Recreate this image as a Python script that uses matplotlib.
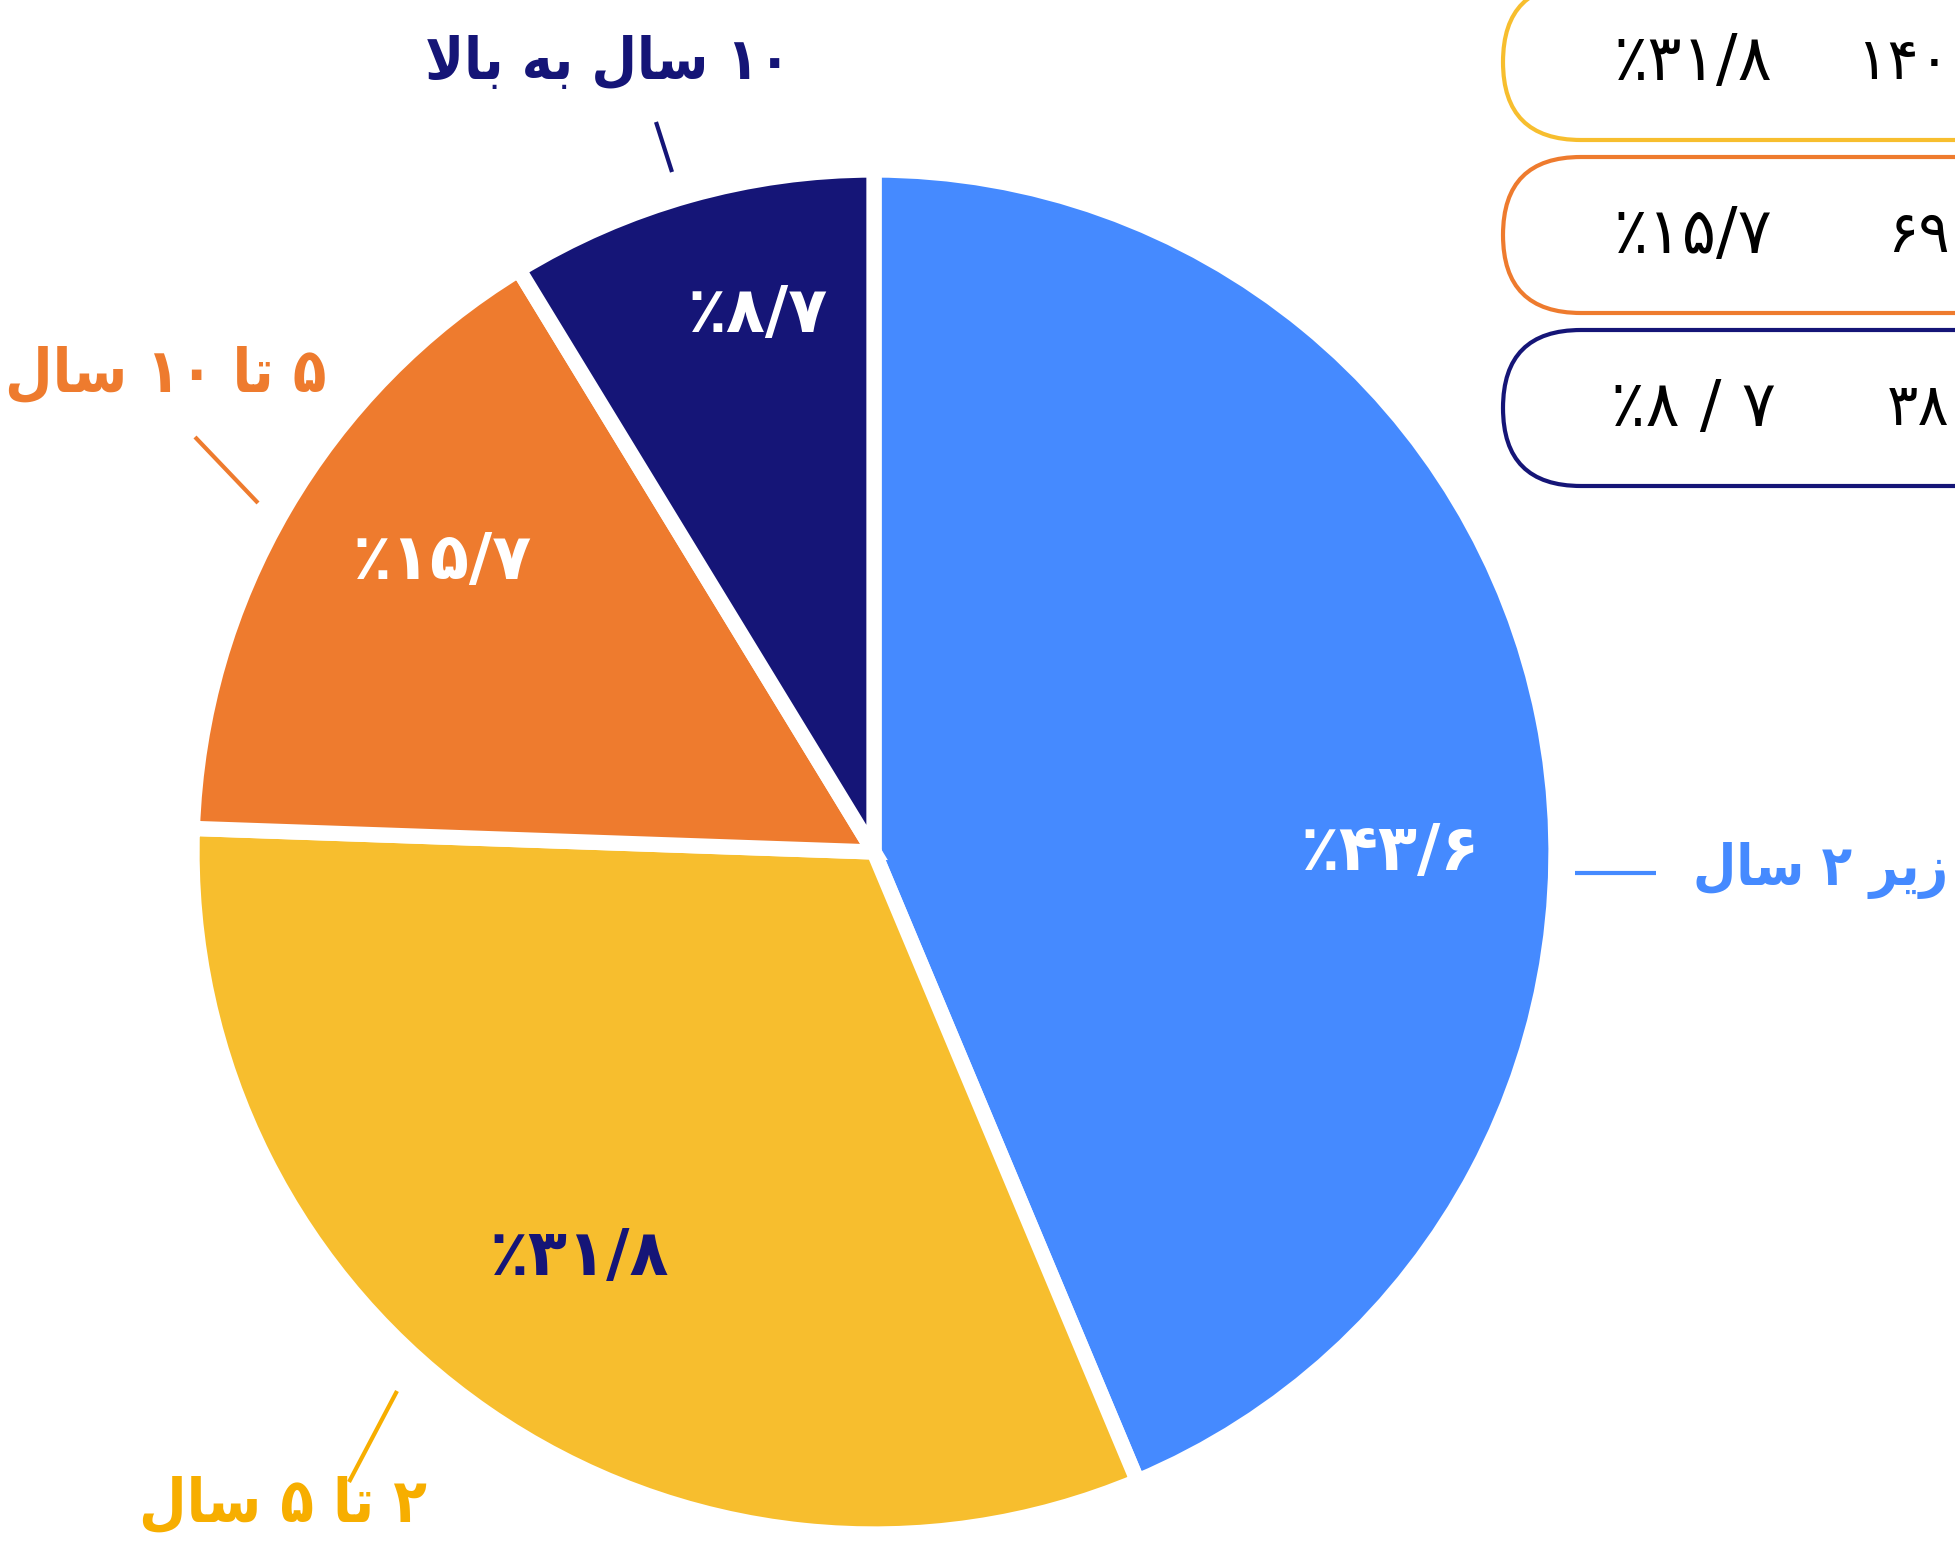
import matplotlib
matplotlib.use("Agg")
import matplotlib.pyplot as plt
from matplotlib.patches import FancyBboxPatch

# figure is laid out in pixels, y going up
W, H = 1956, 1549

# Persian text is written in presentation forms, visual order (matplotlib does no shaping)
labels = [
    "\uFEDD\uFE8E\uFEB3 \u06F2 \uFEAE\uFEF3\uFEAF",               # zir 2 sal
    "\uFEDD\uFE8E\uFEB3 \u06F5 \uFE8E\uFE97 \u06F2",              # 2 ta 5 sal
    "\uFEDD\uFE8E\uFEB3 \u06F1\u06F0 \uFE8E\uFE97 \u06F5",        # 5 ta 10 sal
    "\uFEFB\uFE8E\uFE91 \uFEEA\uFE91 \uFEDD\uFE8E\uFEB3 \u06F1\u06F0",  # 10 sal be bala
]
shares = [43.6, 31.8, 15.7, 8.7]
share_text = ["\u066A\u06F4\u06F3/\u06F6", "\u066A\u06F3\u06F1/\u06F8",
              "\u066A\u06F1\u06F5/\u06F7", "\u066A\u06F8/\u06F7"]

# legend rows (only the left part shows in the picture)
legend_share = ["\u066A\u06F3\u06F1/\u06F8", "\u066A\u06F1\u06F5/\u06F7", "\u066A\u06F8 / \u06F7"]
legend_count = ["\u06F1\u06F4\u06F0", "\u06F6\u06F9", "\u06F3\u06F8"]

colors = ["#458AFF", "#F7BE2E", "#EE7B2E", "#151577"]
label_colors = ["#458AFF", "#F7AE00", "#EE7B2E", "#151577"]
inner_colors = ["white", "#151577", "white", "white"]
legend_colors = ["#F7BE2E", "#EE7B2E", "#151577"]

fig = plt.figure(figsize=(W / 100, H / 100), dpi=100)
ax = fig.add_axes([0, 0, 1, 1])

cx, cy, R = 874, H - 852, 682
wedges, _ = ax.pie(shares, colors=colors, startangle=90, counterclock=False,
                   center=(cx, cy), radius=R,
                   wedgeprops=dict(edgecolor="white", linewidth=11))

ax.set_xlim(0, W)
ax.set_ylim(0, H)
ax.set_aspect("equal")
ax.axis("off")

font = ["DejaVu Sans"]

# values inside the slices
inner_pos = [(1391, H - 852), (580, H - 1257), (443, H - 561), (758, H - 314)]
for txt, (x, y), c in zip(share_text, inner_pos, inner_colors):
    ax.text(x, y, txt, color=c, fontsize=46, fontweight="bold", family=font,
            ha="center", va="center")

# outer labels with leader lines
label_pos = [(1948, H - 870), (283, H - 1505), (166, H - 375), (608, H - 62)]
label_ha = ["right", "center", "center", "center"]
label_size = [40, 44, 44, 42]
leaders = [((1575, 873), (1656, 873)), ((397, 1391), (349, 1482)),
           ((195, 437), (258, 503)), ((656, 122), (672, 172))]
for txt, (x, y), c, ha, fs, (p0, p1) in zip(labels, label_pos, label_colors,
                                             label_ha, label_size, leaders):
    ax.text(x, y, txt, color=c, fontsize=fs, fontweight="bold", family=font,
            fontstretch="condensed", ha=ha, va="center")
    ax.plot([p0[0], p1[0]], [H - p0[1], H - p1[1]], color=c, lw=3,
            solid_capstyle="butt")

# legend pills, cut by the right edge
pill_top = [-16, 157, 330]
pill_h = 156
for top, c, s, n in zip(pill_top, legend_colors, legend_share, legend_count):
    y0 = H - top - pill_h
    box = FancyBboxPatch((1503, y0), 600, pill_h,
                         boxstyle="round,pad=0,rounding_size=78",
                         facecolor="white", edgecolor=c, lw=3, clip_on=False)
    ax.add_patch(box)
    ax.text(1693, y0 + pill_h / 2, s, color="black", fontsize=46, family=font,
            ha="center", va="center")
    ax.text(1950, y0 + pill_h / 2, n, color="black", fontsize=42, family=font,
            ha="right", va="center")

fig.savefig("out.png", dpi=100)
